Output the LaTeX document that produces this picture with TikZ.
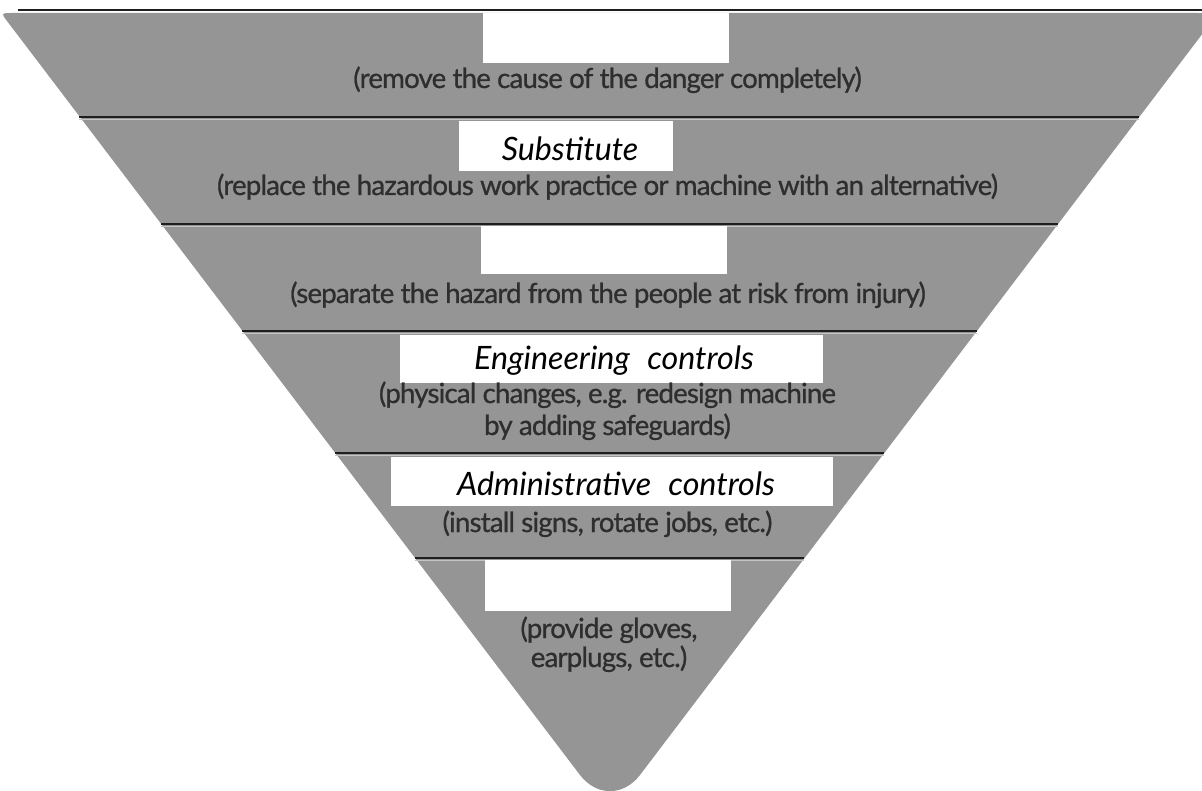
\documentclass[tikz,border=0pt]{standalone}
\usepackage{fontspec}
\newfontfamily\descfont[LetterSpace=-3.0,FakeBold=0.8]{Lato}
\newfontfamily\handfont{Lato}
\definecolor{pyr}{HTML}{959595}
\definecolor{txt}{HTML}{2E2E2E}
\definecolor{sep}{HTML}{1E1E1E}
\definecolor{sephi}{HTML}{C4C4C4}
\newlength\descw
\newlength\handw
\newcommand\hgap{\hspace{0.3em} }
\begin{document}
\settowidth\descw{\descfont\fontsize{20pt}{24pt}\selectfont (replace the hazardous work practice or machine with an alternative)}%
\settowidth\handw{\handfont\itshape\fontsize{20pt}{24pt}\selectfont Administrative\hgap controls}%
\pgfmathsetmacro\descsz{20*781/\descw}%
\pgfmathsetmacro\handsz{20*318/\handw}%
\begin{tikzpicture}[x=1pt,y=-1pt,
  box/.style={fill=white, draw=none, inner sep=0pt},
  desc/.style={font=\descfont\fontsize{\descsz pt}{#1pt}\selectfont, text=txt, align=center, inner sep=0pt, anchor=base},
  desc/.default=30,
  hand/.style={font=\handfont\itshape\fontsize{\handsz pt}{\handsz pt}\selectfont, text=black, inner sep=0pt, anchor=base},
  sepline/.style={draw=sep, line width=2pt},
  sephigh/.style={draw=sephi, line width=1pt}]
\useasboundingbox (0,0) rectangle (1202,791);
% pyramid
\begin{scope}
\clip (0,0) rectangle (1202,791);
\fill[pyr] (7,21) .. controls (1,13) and (1,13) .. (12,13) -- (1193,13)
  .. controls (1218,13) and (1218,13) .. (1203,33) -- (640,775)
  .. controls (623.5,796.5) and (596.5,796.5) .. (580,775) -- cycle;
\end{scope}
% separator lines
\coordinate (l0a) at (18,10);   \coordinate (l0b) at (1202,10);
\coordinate (l1a) at (79,117);  \coordinate (l1b) at (1139,117);
\coordinate (l2a) at (161,224); \coordinate (l2b) at (1058,224);
\coordinate (l3a) at (242,331); \coordinate (l3b) at (977,331);
\coordinate (l4a) at (335,453); \coordinate (l4b) at (884,453);
\coordinate (l5a) at (415,558); \coordinate (l5b) at (804,558);
\draw[sepline] (l0a) -- (l0b);
\foreach \i in {1,...,5}{
  \draw[sephigh] ([yshift=-2.3pt]l\i a) -- ([yshift=-2.3pt]l\i b);
  \draw[sepline] (l\i a) -- (l\i b);
}
% white label boxes
\node[box, minimum width=246pt, minimum height=50pt] (b1) at (606,38) {};
\node[box, minimum width=214pt, minimum height=50pt] (b2) at (566,146) {};
\node[box, minimum width=246pt, minimum height=48pt] (b3) at (604,250) {};
\node[box, minimum width=423pt, minimum height=48pt] (b4) at (611.5,359) {};
\node[box, minimum width=442pt, minimum height=49pt] (b5) at (612,481.5) {};
\node[box, minimum width=246pt, minimum height=51pt] (b6) at (608,585.5) {};
% handwritten labels
\node[hand] (h2) at (570,161) {Substitute};
\node[hand] (h4) at (614,370) {Engineering\hgap controls};
\node[hand] (h5) at (616,495) {Administrative\hgap controls};
% descriptions
\node[desc] (d1) at (607.5,88) {(remove the cause of the danger completely)};
\node[desc] (d2) at (607.5,195) {(replace the hazardous work practice or machine with an alternative)};
\node[desc] (d3) at (608,303) {(separate the hazard from the people at risk from injury)};
\node[desc=32] (d4) at (607.5,435) {(physical changes, e.g. redesign machine\\by adding safeguards)};
\node[desc] (d5) at (607.5,532) {(install signs, rotate jobs, etc.)};
\node[desc=29] (d6) at (609,667) {(provide gloves,\\earplugs, etc.)};
\end{tikzpicture}
\end{document}
